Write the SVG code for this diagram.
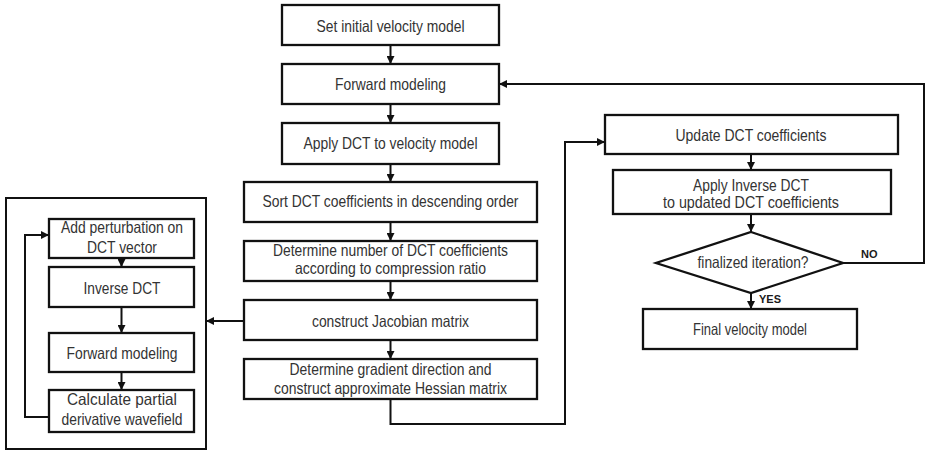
<svg xmlns="http://www.w3.org/2000/svg" width="928" height="453" viewBox="0 0 928 453">
<defs>
<style>
.box{fill:#fff;stroke:#111;stroke-width:2.3}
.frame{fill:none;stroke:#111;stroke-width:2}
.t{font-family:"Liberation Sans",Arial,sans-serif;font-size:16.5px;fill:#333;text-anchor:middle}
.lb{font-family:"Liberation Sans",Arial,sans-serif;font-size:11px;font-weight:bold;fill:#1a1a1a}
.c{fill:none;stroke:#111;stroke-width:2;marker-end:url(#ah)}
</style>
<marker id="ah" viewBox="0 0 8 8" refX="8" refY="4" markerWidth="4" markerHeight="4" orient="auto" markerUnits="strokeWidth">
<path d="M0,0 L8,4 L0,8 z" fill="#111"/>
</marker>
</defs>
<rect width="928" height="453" fill="#fff"/>
<rect id="subframe" class="frame" x="6" y="198" width="200" height="251"/>
<g id="connectors">
<path class="c" d="M390.5,45 V64"/>
<path class="c" d="M390.5,104 V123"/>
<path class="c" d="M390.5,164 V182"/>
<path class="c" d="M390.5,222 V241"/>
<path class="c" d="M390.5,281 V300"/>
<path class="c" d="M390.5,340 V359"/>
<path class="c" d="M390.5,399 V424 H565 V142 H605"/>
<path class="c" d="M751,154 V170"/>
<path class="c" d="M751,214 V232"/>
<path class="c" d="M751,293 V309"/>
<path class="c" d="M843,263 H924 V84 H499"/>
<path class="c" d="M244,321 H206"/>
<path class="c" d="M121.5,258 V267"/>
<path class="c" d="M121.5,307 V333"/>
<path class="c" d="M121.5,372 V390"/>
<path class="c" d="M49,417 H25 V235 H49"/>
</g>
<g id="n1"><rect class="box" x="282" y="5" width="217" height="40"/><text class="t" x="390.5" y="32" textLength="148" lengthAdjust="spacingAndGlyphs">Set initial velocity model</text></g>
<g id="n2"><rect class="box" x="282" y="64" width="217" height="40"/><text class="t" x="390.5" y="90" textLength="111" lengthAdjust="spacingAndGlyphs">Forward modeling</text></g>
<g id="n3"><rect class="box" x="282" y="123" width="217" height="41"/><text class="t" x="390.5" y="149" textLength="174" lengthAdjust="spacingAndGlyphs">Apply DCT to velocity model</text></g>
<g id="n4"><rect class="box" x="244" y="182" width="293" height="40"/><text class="t" x="390.5" y="207" textLength="256" lengthAdjust="spacingAndGlyphs">Sort DCT coefficients in descending order</text></g>
<g id="n5"><rect class="box" x="244" y="241" width="293" height="40"/><text class="t" x="390.5" y="256" textLength="235" lengthAdjust="spacingAndGlyphs">Determine number of DCT coefficients</text><text class="t" x="390.5" y="274" textLength="191" lengthAdjust="spacingAndGlyphs">according to compression ratio</text></g>
<g id="n6"><rect class="box" x="244" y="300" width="293" height="40"/><text class="t" x="390.5" y="327" textLength="157" lengthAdjust="spacingAndGlyphs">construct Jacobian matrix</text></g>
<g id="n7"><rect class="box" x="244" y="359" width="293" height="40"/><text class="t" x="390.5" y="375" textLength="202" lengthAdjust="spacingAndGlyphs">Determine gradient direction and</text><text class="t" x="390.5" y="394" textLength="233" lengthAdjust="spacingAndGlyphs">construct approximate Hessian matrix</text></g>
<g id="n8"><rect class="box" x="605" y="115" width="293" height="39"/><text class="t" x="751" y="141" textLength="151" lengthAdjust="spacingAndGlyphs">Update DCT coefficients</text></g>
<g id="n9"><rect class="box" x="613" y="170" width="278" height="44"/><text class="t" x="751" y="191" textLength="116" lengthAdjust="spacingAndGlyphs">Apply Inverse DCT</text><text class="t" x="751" y="208" textLength="176" lengthAdjust="spacingAndGlyphs">to updated DCT coefficients</text></g>
<g id="n10"><polygon class="box" points="751,232 843,263 751,293 656,263"/><text class="t" x="753" y="268" textLength="111" lengthAdjust="spacingAndGlyphs">finalized iteration?</text></g>
<g id="n11"><rect class="box" x="643" y="309" width="214" height="40"/><text class="t" x="750" y="335" textLength="114" lengthAdjust="spacingAndGlyphs">Final velocity model</text></g>
<g id="n12"><rect class="box" x="49" y="219" width="145" height="39"/><text class="t" x="122" y="233" textLength="122" lengthAdjust="spacingAndGlyphs">Add perturbation on</text><text class="t" x="122" y="253" textLength="70" lengthAdjust="spacingAndGlyphs">DCT vector</text></g>
<g id="n13"><rect class="box" x="49" y="267" width="145" height="40"/><text class="t" x="122" y="294" textLength="77" lengthAdjust="spacingAndGlyphs">Inverse DCT</text></g>
<g id="n14"><rect class="box" x="49" y="333" width="145" height="39"/><text class="t" x="122" y="359" textLength="111" lengthAdjust="spacingAndGlyphs">Forward modeling</text></g>
<g id="n15"><rect class="box" x="49" y="390" width="145" height="42"/><text class="t" x="122" y="405" textLength="110" lengthAdjust="spacingAndGlyphs">Calculate partial</text><text class="t" x="122" y="425" textLength="121" lengthAdjust="spacingAndGlyphs">derivative wavefield</text></g>
<g id="labels"><text class="lb" x="861" y="258">NO</text><text class="lb" x="759" y="303">YES</text></g>
</svg>
